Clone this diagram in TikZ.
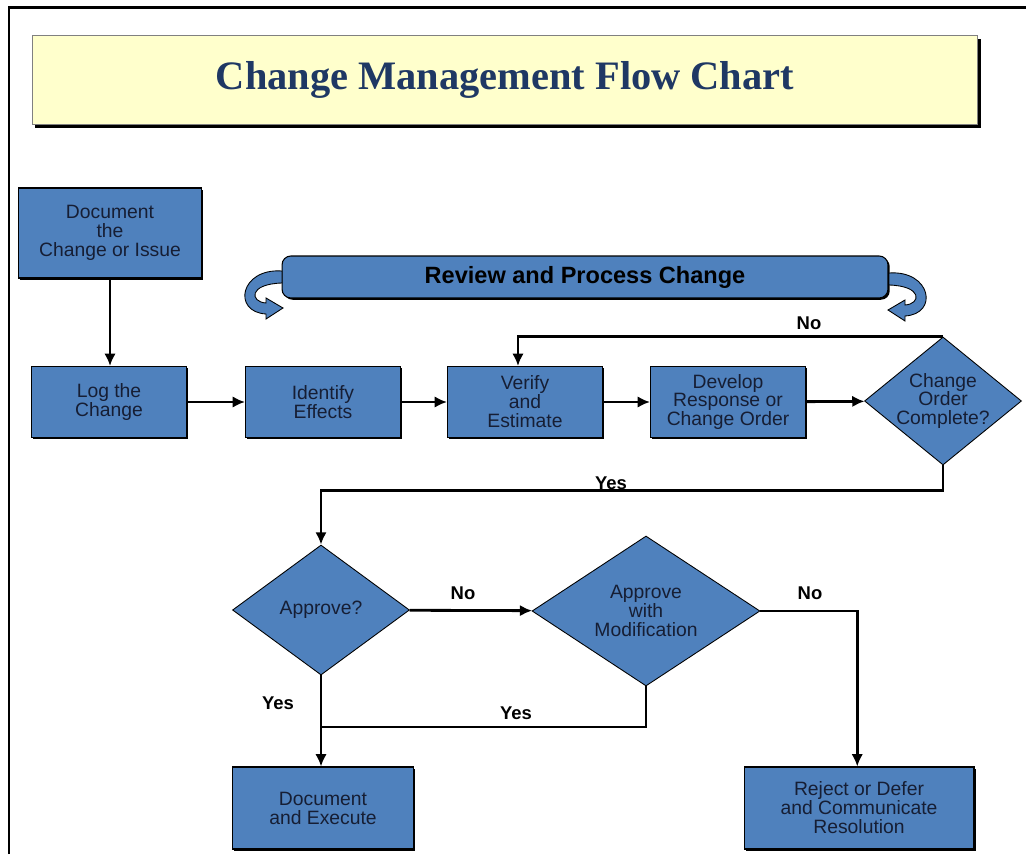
\documentclass[tikz,border=0pt]{standalone}
\usepackage{fontspec}
\setmainfont{Liberation Sans}
\newfontfamily\titlefont{Liberation Serif}
\usetikzlibrary{arrows.meta,shapes.geometric,shadows}

\definecolor{boxblue}{RGB}{79,129,189}
\definecolor{boxtext}{RGB}{22,30,52}
\definecolor{titleblue}{RGB}{31,56,100}
\definecolor{titleyellow}{RGB}{255,255,204}

\begin{document}
\begin{tikzpicture}[x=0.02cm, y=-0.02cm,
    box/.style={draw=black, line width=0.6pt, fill=boxblue, text=boxtext, align=center, inner sep=0pt,
        font=\fontsize{11}{10.8}\selectfont, minimum width=3.1cm, minimum height=1.42cm,
        drop shadow={shadow xshift=1pt, shadow yshift=-1pt, fill=black, opacity=1}},
    decision/.style={diamond, draw=black, line width=0.5pt, fill=boxblue, text=boxtext, align=center,
        inner sep=-6pt, font=\fontsize{11}{10.8}\selectfont},
    curl/.style={fill=boxblue, draw=black, line width=0.5pt},
    flow/.style={line width=1.6pt, -{Latex[length=7pt,width=6.5pt]}},
    link/.style={line width=1.6pt},
    answer/.style={font=\bfseries\fontsize{10.5}{12}\selectfont}]

    \useasboundingbox (0,0) rectangle (1026,854);

    % frame of the page
    \draw [line width=1.7pt] (9,854) -- (9,8) -- (1026,8);

    % title
    \node [draw=gray, line width=0.5pt, fill=titleyellow, minimum width=18.92cm, minimum height=1.78cm,
        drop shadow={shadow xshift=1.7pt, shadow yshift=-2pt, fill=black, opacity=1},
        text=titleblue, font=\titlefont\bfseries\fontsize{23}{26}\selectfont] (title) at (505,80)
        {Change Management Flow Chart};

    % banner with its two curls
    \node [draw=black, line width=0.6pt, fill=boxblue, rounded corners=5pt, minimum width=12.12cm,
        minimum height=0.84cm, drop shadow={shadow xshift=1pt, shadow yshift=-1pt, fill=black, opacity=1},
        font=\bfseries\fontsize{13.4}{15}\selectfont] (banner) at (585,277) {Review and Process Change};

    \filldraw [curl] (282,271) .. controls (240,268) and (232,312) .. (266,314) -- (266,319) -- (283,308)
        -- (266,298) -- (266,303) .. controls (250,302) and (248,284) .. (282,283) -- cycle;
    \filldraw [curl] (889,273) .. controls (931,270) and (939,314) .. (905,316) -- (905,321) -- (888,310)
        -- (905,300) -- (905,305) .. controls (921,304) and (923,286) .. (889,285) -- cycle;

    % steps
    \node [box, minimum width=3.66cm, minimum height=1.8cm] (doc) at (110,233) {Document\\the\\Change or Issue};
    \node [box] (log) at (109,402) {Log the\\Change};
    \node [box] (ident) at (323,402) {Identify\\Effects};
    \node [box] (verify) at (525,402) {Verify\\and\\Estimate};
    \node [box] (develop) at (728,402) {Develop\\Response or\\Change Order};
    \node [decision, minimum width=3.14cm, minimum height=2.56cm] (complete) at (943,401) {Change\\Order\\Complete?};

    \node [decision, minimum width=3.54cm, minimum height=2.6cm] (approve) at (321,610) {Approve?};
    \node [decision, minimum width=4.56cm, minimum height=3cm] (modif) at (646,611) {Approve\\with\\Modification};

    \node [box, minimum width=3.62cm, minimum height=1.64cm] (execute) at (323,808) {Document\\and Execute};
    \node [box, minimum width=4.6cm, minimum height=1.64cm] (reject) at (859,808) {Reject or Defer\\and Communicate\\Resolution};

    % connectors
    \draw [flow] (doc.south) -- (doc.south |- log.north);
    \draw [flow] (log) -- (ident);
    \draw [flow] (ident) -- (verify);
    \draw [flow] (verify) -- (develop);
    \draw [flow] (develop) -- (complete);
    \draw [flow] (complete.north) -| ([xshift=-4pt]verify.north);
    \draw [flow] (complete.south) -- ++(0,25) -| (approve.north);
    \draw [flow] (approve) -- (modif);
    \draw [flow] (modif.east) -| ([xshift=-1pt]reject.north);
    \draw [flow] (approve.south) -- (approve.south |- execute.north);
    \coordinate (join) at (321,727);
    \draw [link] (modif.south) |- (join);

    % answers
    \node [answer] (nocomplete) at (809,323) {No};
    \node [answer] (yescomplete) at (611,483) {Yes};
    \node [answer] (noapprove) at (463,593) {No};
    \node [answer] (nomodif) at (810,593) {No};
    \node [answer] (yesapprove) at (278,703) {Yes};
    \node [answer] (yesmodif) at (516,713) {Yes};

\end{tikzpicture}
\end{document}
